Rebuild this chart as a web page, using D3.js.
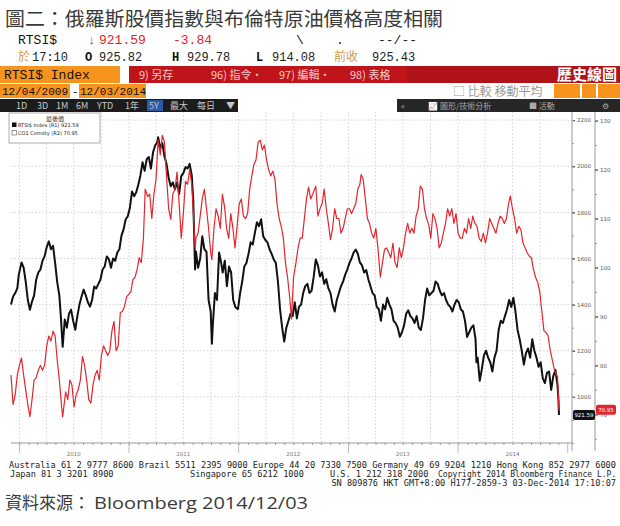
<!DOCTYPE html>
<html><head><meta charset="utf-8">
<script src="https://cdn.jsdelivr.net/npm/d3@7"></script>
<style>body{margin:0;background:#fff}svg{display:block}</style>
</head><body>
<svg id="c" width="620" height="526"></svg>
<script>
// ---------- data ----------
const rtsiDates = ["2009-12-04","2009-12-11","2009-12-18","2009-12-25","2009-12-30","2010-01-08","2010-01-15","2010-01-22","2010-01-29","2010-02-05","2010-02-12","2010-02-19","2010-02-26","2010-03-05","2010-03-12","2010-03-19","2010-03-26","2010-04-02","2010-04-09","2010-04-16","2010-04-23","2010-04-30","2010-05-07","2010-05-14","2010-05-19","2010-05-25","2010-06-01","2010-06-08","2010-06-15","2010-06-22","2010-06-29","2010-07-06","2010-07-13","2010-07-20","2010-07-27","2010-08-03","2010-08-10","2010-08-17","2010-08-24","2010-08-31","2010-09-07","2010-09-14","2010-09-21","2010-09-28","2010-10-05","2010-10-12","2010-10-19","2010-10-26","2010-11-02","2010-11-09","2010-11-16","2010-11-23","2010-11-30","2010-12-07","2010-12-14","2010-12-21","2010-12-28","2011-01-04","2011-01-11","2011-01-18","2011-01-25","2011-02-01","2011-02-08","2011-02-15","2011-02-22","2011-03-01","2011-03-08","2011-03-15","2011-03-22","2011-03-29","2011-04-05","2011-04-08","2011-04-15","2011-04-22","2011-04-29","2011-05-06","2011-05-13","2011-05-20","2011-05-27","2011-06-03","2011-06-10","2011-06-17","2011-06-24","2011-07-01","2011-07-08","2011-07-15","2011-07-22","2011-07-29","2011-08-03","2011-08-09","2011-08-12","2011-08-19","2011-08-26","2011-09-02","2011-09-09","2011-09-16","2011-09-23","2011-09-30","2011-10-04","2011-10-07","2011-10-14","2011-10-21","2011-10-28","2011-11-04","2011-11-09","2011-11-16","2011-11-23","2011-11-30","2011-12-07","2011-12-14","2011-12-21","2011-12-30","2012-01-06","2012-01-13","2012-01-20","2012-01-27","2012-02-03","2012-02-10","2012-02-17","2012-02-24","2012-03-02","2012-03-09","2012-03-16","2012-03-23","2012-03-30","2012-04-06","2012-04-13","2012-04-20","2012-04-27","2012-05-04","2012-05-11","2012-05-18","2012-05-25","2012-06-01","2012-06-08","2012-06-15","2012-06-22","2012-06-29","2012-07-06","2012-07-13","2012-07-20","2012-07-27","2012-08-03","2012-08-10","2012-08-17","2012-08-24","2012-08-31","2012-09-07","2012-09-14","2012-09-21","2012-09-28","2012-10-05","2012-10-12","2012-10-19","2012-10-26","2012-11-02","2012-11-09","2012-11-16","2012-11-23","2012-11-30","2012-12-07","2012-12-14","2012-12-21","2012-12-28","2013-01-04","2013-01-11","2013-01-18","2013-01-25","2013-02-01","2013-02-08","2013-02-15","2013-02-22","2013-03-01","2013-03-08","2013-03-15","2013-03-22","2013-03-29","2013-04-05","2013-04-12","2013-04-19","2013-04-26","2013-05-03","2013-05-10","2013-05-17","2013-05-24","2013-05-31","2013-06-07","2013-06-14","2013-06-21","2013-06-28","2013-07-05","2013-07-12","2013-07-19","2013-07-26","2013-08-02","2013-08-09","2013-08-16","2013-08-23","2013-08-30","2013-09-06","2013-09-13","2013-09-20","2013-09-27","2013-10-04","2013-10-11","2013-10-18","2013-10-25","2013-11-01","2013-11-08","2013-11-15","2013-11-22","2013-11-29","2013-12-06","2013-12-13","2013-12-20","2013-12-27","2014-01-03","2014-01-10","2014-01-17","2014-01-24","2014-01-31","2014-02-07","2014-02-14","2014-02-21","2014-02-28","2014-03-03","2014-03-07","2014-03-14","2014-03-21","2014-03-28","2014-04-04","2014-04-11","2014-04-18","2014-04-25","2014-05-02","2014-05-09","2014-05-16","2014-05-23","2014-05-30","2014-06-06","2014-06-13","2014-06-20","2014-06-27","2014-07-04","2014-07-11","2014-07-18","2014-07-25","2014-08-01","2014-08-08","2014-08-15","2014-08-22","2014-08-29","2014-09-05","2014-09-12","2014-09-19","2014-09-26","2014-10-03","2014-10-10","2014-10-17","2014-10-24","2014-10-31","2014-11-07","2014-11-14","2014-11-21","2014-11-28","2014-12-01","2014-12-03"];
const rtsiValues = [1400,1435,1450,1470,1530,1583,1560,1500,1420,1378,1413,1440,1509,1539,1552,1590,1610,1650,1674,1640,1655,1580,1496,1440,1348,1217,1335,1300,1360,1378,1330,1291,1350,1400,1435,1465,1440,1410,1391,1420,1478,1470,1490,1509,1552,1565,1609,1596,1560,1600,1590,1626,1640,1700,1726,1770,1783,1820,1890,1870,1887,1920,1960,2017,1980,2030,2040,1990,2060,2090,2104,2126,2080,2100,2043,2010,1950,1913,1930,1900,1930,1880,1957,1970,1996,1990,2010,1960,1850,1552,1630,1560,1600,1696,1640,1630,1420,1370,1230,1310,1450,1420,1626,1580,1539,1590,1480,1565,1540,1420,1390,1380,1450,1500,1565,1580,1620,1670,1660,1710,1757,1740,1770,1696,1680,1670,1640,1620,1596,1580,1500,1380,1300,1240,1300,1330,1360,1350,1410,1340,1390,1400,1450,1480,1490,1450,1460,1520,1596,1570,1522,1540,1490,1510,1470,1450,1400,1370,1420,1450,1480,1500,1530,1552,1580,1600,1626,1639,1620,1583,1570,1539,1550,1510,1480,1450,1440,1390,1380,1330,1400,1380,1430,1400,1380,1330,1320,1300,1260,1280,1310,1360,1375,1350,1340,1320,1350,1300,1290,1340,1420,1470,1440,1450,1460,1500,1490,1460,1440,1450,1420,1400,1390,1370,1400,1420,1410,1380,1370,1330,1260,1280,1300,1310,1250,1150,1170,1070,1120,1180,1200,1170,1150,1110,1170,1200,1290,1330,1320,1350,1380,1420,1390,1430,1370,1290,1250,1200,1140,1190,1210,1170,1250,1200,1170,1130,1150,1080,1060,1104,1110,1030,1090,1117,1050,990,921.59];

const brentDates = ["2009-12-04","2009-12-11","2009-12-18","2009-12-25","2010-01-01","2010-01-08","2010-01-15","2010-01-22","2010-01-29","2010-02-05","2010-02-12","2010-02-19","2010-02-26","2010-03-05","2010-03-12","2010-03-19","2010-03-26","2010-04-02","2010-04-09","2010-04-16","2010-04-23","2010-04-30","2010-05-07","2010-05-14","2010-05-21","2010-05-25","2010-06-04","2010-06-11","2010-06-18","2010-06-25","2010-07-02","2010-07-09","2010-07-16","2010-07-23","2010-07-30","2010-08-06","2010-08-13","2010-08-20","2010-08-27","2010-09-03","2010-09-10","2010-09-17","2010-09-24","2010-10-01","2010-10-08","2010-10-15","2010-10-22","2010-10-29","2010-11-05","2010-11-12","2010-11-19","2010-11-26","2010-12-03","2010-12-10","2010-12-17","2010-12-24","2011-01-07","2011-01-14","2011-01-21","2011-01-28","2011-02-04","2011-02-11","2011-02-18","2011-02-24","2011-03-04","2011-03-11","2011-03-18","2011-03-25","2011-04-01","2011-04-08","2011-04-15","2011-04-22","2011-04-29","2011-05-06","2011-05-13","2011-05-20","2011-05-27","2011-06-03","2011-06-10","2011-06-17","2011-06-24","2011-07-01","2011-07-08","2011-07-15","2011-07-22","2011-07-29","2011-08-05","2011-08-09","2011-08-12","2011-08-19","2011-08-26","2011-09-02","2011-09-09","2011-09-16","2011-09-23","2011-09-30","2011-10-04","2011-10-11","2011-10-18","2011-10-25","2011-11-01","2011-11-08","2011-11-15","2011-11-22","2011-11-29","2011-12-06","2011-12-13","2011-12-20","2011-12-27","2012-01-03","2012-01-10","2012-01-17","2012-01-24","2012-01-31","2012-02-07","2012-02-14","2012-02-21","2012-02-28","2012-03-06","2012-03-13","2012-03-20","2012-03-27","2012-04-03","2012-04-10","2012-04-17","2012-04-24","2012-05-01","2012-05-08","2012-05-15","2012-05-22","2012-05-29","2012-06-05","2012-06-12","2012-06-19","2012-06-25","2012-07-02","2012-07-10","2012-07-17","2012-07-24","2012-07-31","2012-08-07","2012-08-14","2012-08-21","2012-08-28","2012-09-04","2012-09-14","2012-09-21","2012-09-28","2012-10-05","2012-10-12","2012-10-19","2012-10-26","2012-11-02","2012-11-09","2012-11-16","2012-11-23","2012-11-30","2012-12-07","2012-12-14","2012-12-21","2012-12-28","2013-01-04","2013-01-11","2013-01-18","2013-01-25","2013-02-01","2013-02-08","2013-02-12","2013-02-19","2013-02-26","2013-03-05","2013-03-12","2013-03-19","2013-03-26","2013-04-02","2013-04-09","2013-04-17","2013-04-24","2013-05-01","2013-05-08","2013-05-15","2013-05-22","2013-05-29","2013-06-05","2013-06-12","2013-06-19","2013-06-26","2013-07-03","2013-07-10","2013-07-17","2013-07-24","2013-07-31","2013-08-07","2013-08-14","2013-08-21","2013-08-28","2013-09-04","2013-09-11","2013-09-18","2013-09-25","2013-10-02","2013-10-09","2013-10-16","2013-10-23","2013-10-30","2013-11-06","2013-11-13","2013-11-20","2013-11-27","2013-12-04","2013-12-11","2013-12-18","2013-12-25","2014-01-01","2014-01-08","2014-01-15","2014-01-22","2014-01-29","2014-02-05","2014-02-12","2014-02-19","2014-02-26","2014-03-05","2014-03-12","2014-03-19","2014-03-26","2014-04-02","2014-04-09","2014-04-16","2014-04-23","2014-04-30","2014-05-07","2014-05-14","2014-05-21","2014-05-28","2014-06-04","2014-06-11","2014-06-18","2014-06-24","2014-07-01","2014-07-08","2014-07-15","2014-07-22","2014-07-29","2014-08-05","2014-08-12","2014-08-19","2014-08-26","2014-09-02","2014-09-09","2014-09-16","2014-09-23","2014-09-30","2014-10-07","2014-10-14","2014-10-21","2014-10-28","2014-11-04","2014-11-11","2014-11-18","2014-11-25","2014-11-28","2014-12-03"];
const brentValues = [78,72,74,78,80,81.5,78,75,72,69.5,73,77,77.5,79,80,79,80,84,86,85,87,86,81,77,72,69.5,74.6,73,77,76,71.5,74,75,77,81.8,80,77,73,72.3,76,78,79,77,82,84,83,82,83,87,89,83,84,90.8,91,92,94,95,97.5,98,99.6,102,101,106,116,114.5,115,110,115,118,126,123,127,125.6,118.6,112,109.8,115,116,119.5,113,106,111,117.6,117,120,117,109,104,106,107,110.5,114,116,112,108,103,101.6,108,112,110.5,108,115,112.5,108,106,111,108,104,108.4,113,114,110.5,110,111,116,118.7,121,122,125.6,126,124,125,122,120,118.7,119.7,118,113,110,108.4,106,101,98,94,89.5,98,101,104,106,106,110,114,116.4,114,115,116.6,110.5,112,113,116,112,109,105.7,108,112,110,110,107,108,110,112,112,111,112,113,116,117,119,118,114,110,109,107,106,108,104,98,101,103.7,104,103,102,105,101,100,104,102,104,107,109,107,108,107,110.5,112,116.6,116,112,110,108.8,106,111,110,108,104,105,107,109,112,110.5,112,109,111,107,106,106,108,107,110,108,110.5,109,108.4,106,105.3,107,105,107,110,109,108,107,109,110.5,110,109,110,113,114.6,112,110,107,108.4,107.8,105,104,103,102.3,102,99.6,98,97,95,91,87,86.7,86,83,81,79,78,77.7,70.95];

const leftTicks = [1000,1200,1400,1600,1800,2000,2200];
const rightTicks = [70,80,90,100,110,120,130];
const yearLabels = ["2010","2011","2012","2013","2014"];
const lastRtsi = "921.59", lastBrent = "70.95";

// ---------- setup ----------
const svg = d3.select("#c");
const parse = d3.timeParse("%Y-%m-%d");
const rtsi = rtsiDates.map((d,i)=>({d:parse(d),v:rtsiValues[i]}));
const brent = brentDates.map((d,i)=>({d:parse(d),v:brentValues[i]}));

const PL=11, PR=572, PT=112, PB=443;
const x = d3.scaleTime().domain([parse("2009-12-04"), parse("2014-12-03")]).range([PL, 559]);
const yL = d3.scaleLinear().domain([800, 2235]).range([PB, PT]);
const yR = d3.scaleLinear().domain([64.14, 131.76]).range([PB, PT]);

const CJK = "'Noto Sans CJK TC','Noto Sans CJK SC',sans-serif";
const MONO = "'Liberation Mono','DejaVu Sans Mono',monospace";

// title
svg.append("text").attr("x",5).attr("y",26).attr("font-family",CJK).attr("font-size",19.5)
  .attr("textLength",438).attr("lengthAdjust","spacingAndGlyphs")
  .attr("fill","#3a3a3a").text("圖二：俄羅斯股價指數與布倫特原油價格高度相關");

// header line 1
const h1 = [[18,"RTSI$","#111"],[88,"↓","#d9262b"],[99,"921.59","#d9262b"],[173,"-3.84","#d9262b"],[296,"\\","#111"],[336,".","#111"],[378,"--/--","#222"]];
h1.forEach(t=>svg.append("text").attr("x",t[0]).attr("y",44).attr("font-family",MONO)
  .attr("font-size",13).attr("fill",t[2]).text(t[1]));
// header line 2
const h2 = [[18,"於","#d39a4a",CJK,"normal"],[32,"17:10","#222",MONO,"normal"],[85,"O","#111",MONO,"bold"],[99,"925.82","#222",MONO,"normal"],
  [172,"H","#111",MONO,"bold"],[187,"929.78","#222",MONO,"normal"],[256,"L","#111",MONO,"bold"],[272,"914.08","#222",MONO,"normal"],
  [334,"前收","#d39a4a",CJK,"normal"],[372,"925.43","#222",MONO,"normal"]];
h2.forEach(t=>svg.append("text").attr("x",t[0]).attr("y",61).attr("font-family",t[3])
  .attr("font-size",12).attr("font-weight",t[4]).attr("fill",t[2]).text(t[1]));

// orange/red bar row
svg.append("rect").attr("x",0).attr("y",66).attr("width",120).attr("height",17).attr("fill","#f7941e");
svg.append("text").attr("x",4).attr("y",79).attr("font-family",MONO).attr("font-size",13).attr("fill","#111").text("RTSI$ Index");
svg.append("rect").attr("x",129).attr("y",66).attr("width",491).attr("height",17).attr("fill","#c0141b");
svg.append("rect").attr("x",407).attr("y",66).attr("width",213).attr("height",17).attr("fill","#b0121a");
[[139,"9) 另存"],[211,"96) 指令•"],[279,"97) 編輯•"],[350,"98) 表格"]].forEach(t=>
  svg.append("text").attr("x",t[0]).attr("y",79).attr("font-family",CJK).attr("font-size",11)
   .attr("fill","#f6c9c9").text(t[1]));
svg.append("text").attr("x",617).attr("y",80).attr("text-anchor","end").attr("font-family",CJK)
  .attr("font-size",15).attr("font-weight","bold").attr("fill","#fff").text("歷史線圖");

// date row
svg.append("rect").attr("x",0).attr("y",84).attr("width",70).attr("height",14).attr("fill","#f7941e");
svg.append("text").attr("x",2).attr("y",95).attr("font-family",MONO).attr("font-size",11).attr("fill","#111").text("12/04/2009");
svg.append("text").attr("x",72).attr("y",95).attr("font-family",MONO).attr("font-size",11).attr("fill","#111").text("-");
svg.append("rect").attr("x",79).attr("y",84).attr("width",67).attr("height",14).attr("fill","#f7941e");
svg.append("text").attr("x",80).attr("y",95).attr("font-family",MONO).attr("font-size",11).attr("fill","#111").text("12/03/2014");
svg.append("text").attr("x",453).attr("y",96).attr("font-family",CJK).attr("font-size",12).attr("fill","#999").text("□ 比較 移動平均");
[[554,26],[582,14],[598,22]].forEach(r=>svg.append("rect").attr("x",r[0]).attr("y",84).attr("width",r[1]).attr("height",14).attr("fill","#f7941e"));

// toolbar row
svg.append("rect").attr("x",0).attr("y",99).attr("width",238).attr("height",13).attr("fill","#1c1c1c");
svg.append("rect").attr("x",397).attr("y",99).attr("width",223).attr("height",13).attr("fill","#262626");
svg.append("rect").attr("x",147).attr("y",100).attr("width",16).attr("height",11).attr("fill","#2a5aa8");
[[16,"1D"],[37,"3D"],[56,"1M"],[76,"6M"],[97,"YTD"],[125,"1年"],[149,"5Y"],[170,"最大"],[197,"每日"],[226,"▼"]].forEach(t=>
  svg.append("text").attr("x",t[0]).attr("y",109).attr("font-family",CJK).attr("font-size",9).attr("fill","#c8c8c8").text(t[1]));
[[401,"«"],[428,"📈"],[440,"圖形/技術分析"],[529,"■ 活動"],[602,"⚙"]].forEach(t=>
  svg.append("text").attr("x",t[0]).attr("y",109).attr("font-family",CJK).attr("font-size",8).attr("fill","#aaa").text(t[1]));

// ---------- plot ----------
const g = svg.append("g");
const quarters = d3.timeMonth.every(3).range(parse("2010-01-01"), parse("2015-01-01"));
g.selectAll(".vg").data(quarters).join("line")
  .attr("x1",d=>x(d)).attr("x2",d=>x(d)).attr("y1",PT).attr("y2",PB)
  .attr("stroke","#c8c8c8").attr("stroke-width",0.8).attr("stroke-dasharray","1.5,2");
g.selectAll(".hg").data(leftTicks).join("line")
  .attr("x1",PL).attr("x2",PR).attr("y1",d=>yL(d)).attr("y2",d=>yL(d))
  .attr("stroke","#c8c8c8").attr("stroke-width",0.8).attr("stroke-dasharray","1.5,2");

// bottom axis
const xAxis = d3.axisBottom(x).ticks(d3.timeMonth.every(1)).tickSize(2).tickFormat("");
const xa = g.append("g").attr("transform",`translate(0,${PB})`).call(xAxis);
xa.select(".domain").attr("stroke","#999").attr("d",`M${PL},0H${PR}`);
xa.selectAll(".tick line").attr("stroke","#999");
const years = d3.timeYear.range(parse("2010-01-01"), parse("2015-01-02"));
g.selectAll(".yt").data(years).join("line")
  .attr("x1",d=>x(d)).attr("x2",d=>x(d)).attr("y1",PB).attr("y2",PB+10).attr("stroke","#aaa").attr("stroke-width",0.8);
g.selectAll(".yl").data(yearLabels).join("text")
  .attr("x",d=>x(parse(d+"-07-01"))).attr("y",PB+13).attr("text-anchor","middle")
  .attr("font-family","DejaVu Sans").attr("font-size",5.5).attr("fill","#777").text(d=>d);

// right axes
const aL = d3.axisRight(yL).tickValues(leftTicks).tickSize(3).tickFormat(d3.format("d"));
const aLg = g.append("g").attr("transform",`translate(${PR},0)`).call(aL);
aLg.select(".domain").attr("stroke","#999").attr("d",`M0,${PT}V${PB+8}`);
aLg.selectAll(".tick line").attr("stroke","#333").attr("stroke-width",1.2);
aLg.selectAll(".tick text").attr("font-family","DejaVu Sans").attr("font-size",5.5).attr("fill","#555").attr("x",5);
const aLm = d3.axisRight(yL).ticks(14).tickSize(2).tickFormat("");
const aLmg = g.append("g").attr("transform",`translate(${PR},0)`).call(aLm);
aLmg.select(".domain").remove(); aLmg.selectAll(".tick line").attr("stroke","#999");

const aR = d3.axisRight(yR).tickValues(rightTicks).tickSize(3).tickFormat(d3.format("d"));
const aRg = g.append("g").attr("transform",`translate(595,0)`).call(aR);
aRg.select(".domain").attr("stroke","#999").attr("d",`M0,${PT}V${PB+8}`);
aRg.selectAll(".tick line").attr("stroke","#333").attr("stroke-width",1.2);
aRg.selectAll(".tick text").attr("font-family","DejaVu Sans").attr("font-size",5.5).attr("fill","#555").attr("x",5);
const aRm = d3.axisRight(yR).ticks(13).tickSize(2).tickFormat("");
const aRmg = g.append("g").attr("transform",`translate(595,0)`).call(aRm);
aRmg.select(".domain").remove(); aRmg.selectAll(".tick line").attr("stroke","#999");

// lines
const lineL = d3.line().x(d=>x(d.d)).y(d=>yL(d.v));
const lineR = d3.line().x(d=>x(d.d)).y(d=>yR(d.v));
g.append("path").datum(rtsi).attr("d",lineL).attr("fill","none").attr("stroke","#111")
  .attr("stroke-width",2).attr("stroke-linejoin","round");
g.append("path").datum(brent).attr("d",lineR).attr("fill","none").attr("stroke","#e3262d")
  .attr("stroke-width",1.2).attr("stroke-linejoin","round");

// last value tags
const ly = yL(rtsi[rtsi.length-1].v), ry = yR(brent[brent.length-1].v);
g.append("rect").attr("x",PR+1).attr("y",ly-5).attr("width",22).attr("height",10).attr("rx",2).attr("fill","#111");
g.append("text").attr("x",PR+12).attr("y",ly+2).attr("text-anchor","middle").attr("font-family","DejaVu Sans")
  .attr("font-size",5.5).attr("fill","#fff").text(lastRtsi);
g.append("rect").attr("x",596).attr("y",ry-5).attr("width",20).attr("height",10).attr("rx",2).attr("fill","#e3262d");
g.append("text").attr("x",606).attr("y",ry+2).attr("text-anchor","middle").attr("font-family","DejaVu Sans")
  .attr("font-size",5.5).attr("fill","#fff").text(lastBrent);

// legend
const lg = g.append("g");
lg.append("rect").attr("x",9).attr("y",113).attr("width",91).attr("height",30).attr("fill","#fff").attr("stroke","#999").attr("stroke-width",0.8);
lg.append("text").attr("x",55).attr("y",121).attr("text-anchor","middle").attr("font-family",CJK).attr("font-size",6).attr("fill","#333").text("最後價");
lg.append("rect").attr("x",12).attr("y",122.5).attr("width",4.5).attr("height",4.5).attr("fill","#111");
lg.append("text").attr("x",18).attr("y",127).attr("font-family","DejaVu Sans").attr("font-size",5).attr("fill","#222").text("RTSI$ Index   (R1) 921.59");
lg.append("rect").attr("x",12).attr("y",130.5).attr("width",4.5).attr("height",4.5).attr("fill","#fff").attr("stroke","#555").attr("stroke-width",0.6);
lg.append("text").attr("x",18).attr("y",135).attr("font-family","DejaVu Sans").attr("font-size",5).attr("fill","#222").text("CO1 Comdty    (R2)   70.95");

// footer
const F = "'DejaVu Sans Mono',monospace";
svg.append("text").attr("x",9).attr("y",468).attr("font-family",F).attr("font-size",8.6).attr("fill","#222")
  .attr("textLength",607).attr("lengthAdjust","spacingAndGlyphs")
  .text("Australia 61 2 9777 8600 Brazil 5511 2395 9000 Europe 44 20 7330 7500 Germany 49 69 9204 1210 Hong Kong 852 2977 6000");
[[10,"Japan 81 3 3201 8900"],[190,"Singapore 65 6212 1000"],[330,"U.S. 1 212 318 2000"]].forEach(t=>
  svg.append("text").attr("x",t[0]).attr("y",477).attr("font-family",F).attr("font-size",8.6).attr("fill","#222").text(t[1]));
svg.append("text").attr("x",438).attr("y",477).attr("font-family",F).attr("font-size",8).attr("fill","#222")
  .text("Copyright 2014 Bloomberg Finance L.P.");
svg.append("text").attr("x",616).attr("y",486).attr("text-anchor","end").attr("font-family",F).attr("font-size",8.6).attr("fill","#222")
  .text("SN 809876 HKT  GMT+8:00 H177-2859-3 03-Dec-2014 17:10:07");

// source
svg.append("text").attr("x",5).attr("y",509).attr("font-family",CJK).attr("font-size",17).attr("fill","#3a3a3a")
  .text("資料來源：");
svg.append("text").attr("x",94).attr("y",509).attr("font-family","'Open Sans',sans-serif").attr("font-size",17).attr("fill","#3a3a3a")
  .attr("textLength",214).attr("lengthAdjust","spacingAndGlyphs").text("Bloomberg 2014/12/03");
</script>
</body></html>
